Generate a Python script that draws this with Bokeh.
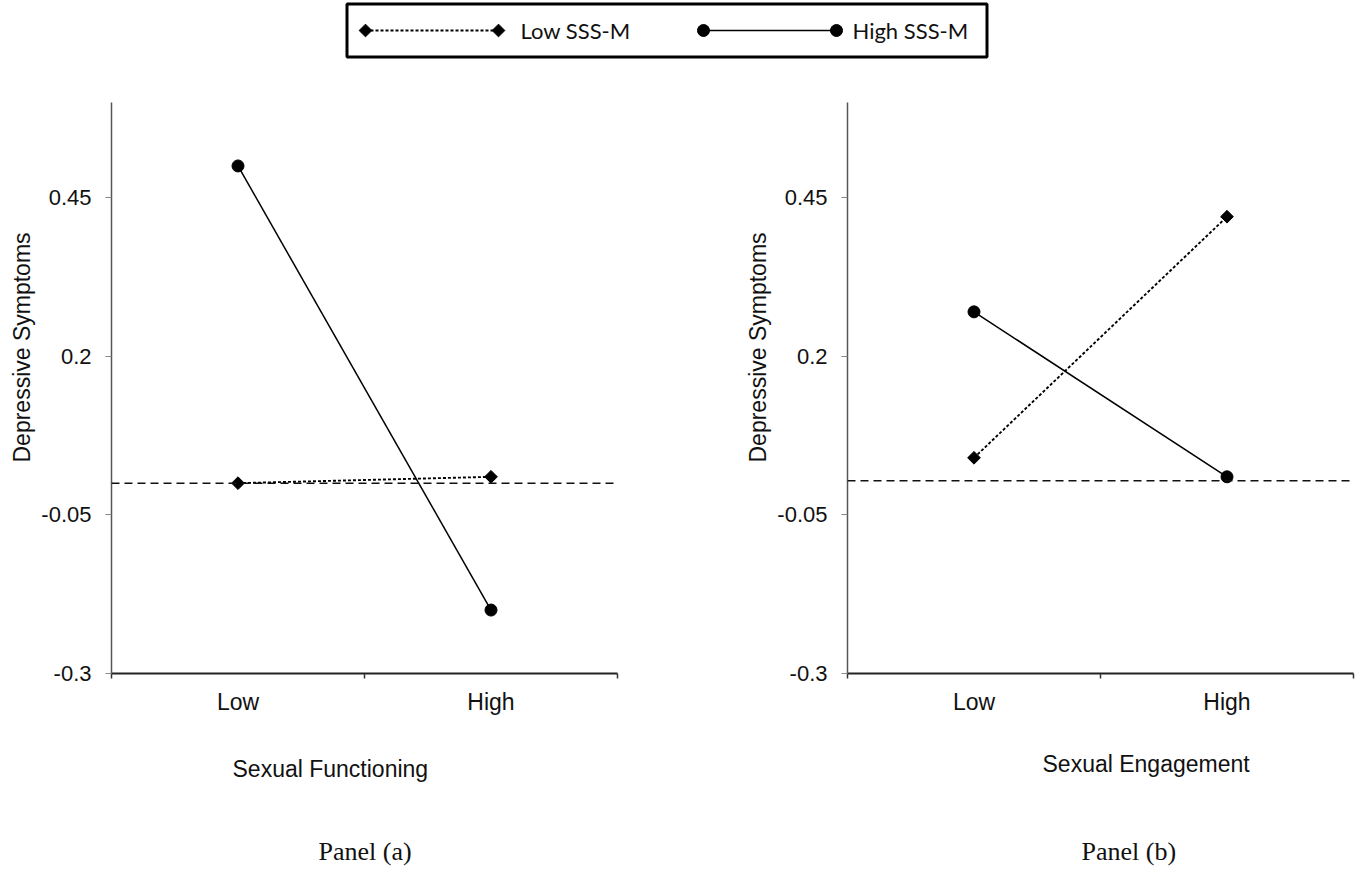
import math
from bokeh.plotting import figure
from bokeh.models import Range1d, FixedTicker, Span, Title
from bokeh.layouts import column, row
from bokeh.embed import file_html
from bokeh.resources import INLINE
from bokeh.core.properties import value

# ---------------- data ----------------
levels = ["Low", "High"]
series_names = ["Low SSS-M", "High SSS-M"]
panel_a_low_sssm = [0.0, 0.01]
panel_a_high_sssm = [0.50, -0.20]
panel_b_low_sssm = [0.04, 0.42]
panel_b_high_sssm = [0.27, 0.01]
reference_levels = [0.0, 0.004]
y_ticks = [-0.3, -0.05, 0.2, 0.45]
y_tick_labels = ["-0.3", "-0.05", "0.2", "0.45"]
y_min, y_max = -0.3, 0.6
x_titles = ["Sexual Functioning", "Sexual Engagement"]
panel_titles = ["Panel (a)", "Panel (b)"]
y_title = "Depressive Symptoms"

SANS = "Liberation Sans"
SERIF = "Liberation Serif"
PAGE_W = 1360
LEG_H = 60
TOP_BORDER = 42
FRAME_H = 571
BOTTOM_BORDER = 50
ROW_H = TOP_BORDER + FRAME_H + BOTTOM_BORDER
CAP_H = 145
LOW_DASH = "3 2"
LOW_WIDTH = 1.9


def make_panel(low_vals, high_vals, ref, width, border_left, border_right):
    p = figure(width=width, height=ROW_H,
               x_range=Range1d(0, len(levels)), y_range=Range1d(y_min, y_max),
               output_backend="svg", toolbar_location=None,
               min_border_left=border_left, min_border_right=border_right,
               min_border_top=TOP_BORDER, min_border_bottom=BOTTOM_BORDER)
    p.grid.visible = False
    p.outline_line_color = None
    p.background_fill_color = "white"
    p.border_fill_color = "white"

    xs = [i + 0.5 for i in range(len(levels))]

    xa = p.xaxis[0]
    xa.ticker = FixedTicker(ticks=xs, minor_ticks=list(range(len(levels) + 1)))
    xa.major_label_overrides = {x: lab for x, lab in zip(xs, levels)}
    xa.major_tick_line_color = None
    xa.major_tick_out = 5
    xa.major_tick_in = 0
    xa.minor_tick_out = 5
    xa.minor_tick_in = 0
    xa.minor_tick_line_color = "#333333"
    xa.minor_tick_line_width = 1.5
    xa.axis_line_color = "#222222"
    xa.axis_line_width = 2
    xa.major_label_standoff = 10
    xa.major_label_text_font = SANS
    xa.major_label_text_font_size = "23px"
    xa.major_label_text_color = "#111111"

    ya = p.yaxis[0]
    ya.ticker = FixedTicker(ticks=y_ticks)
    ya.major_label_overrides = {t: lab for t, lab in zip(y_ticks, y_tick_labels)}
    ya.major_tick_out = 6
    ya.major_tick_in = 0
    ya.major_tick_line_color = "#888888"
    ya.major_tick_line_width = 1
    ya.minor_tick_line_color = None
    ya.axis_line_color = "#555555"
    ya.axis_line_width = 1.5
    ya.major_label_standoff = 14
    ya.major_label_text_font = SANS
    ya.major_label_text_font_size = "22px"
    ya.major_label_text_color = "#111111"

    p.add_layout(Span(location=ref, dimension="width", line_color="#111111",
                      line_width=1.5, line_dash="8 5"))

    p.line(xs, low_vals, line_color="black", line_width=LOW_WIDTH, line_dash=LOW_DASH)
    p.scatter(xs, low_vals, marker="square", angle=math.pi / 4, size=9,
              fill_color="black", line_color="black")
    p.line(xs, high_vals, line_color="black", line_width=1.5)
    p.scatter(xs, high_vals, marker="circle", size=12,
              fill_color="black", line_color="black")

    p.add_layout(Title(text=y_title, align="left", offset=211,
                       text_font=SANS, text_font_size="23px",
                       text_font_style="normal", text_color="#111111",
                       standoff=8), "left")
    return p


def plain_fig(w, h):
    f = figure(width=w, height=h, x_range=Range1d(0, w), y_range=Range1d(0, h),
               output_backend="svg", toolbar_location=None,
               x_axis_location=None, y_axis_location=None,
               min_border_left=0, min_border_right=0, min_border_top=0,
               min_border_bottom=0)
    f.grid.visible = False
    f.outline_line_color = None
    return f


pa = make_panel(panel_a_low_sssm, panel_a_high_sssm, reference_levels[0], 682, 111, 65)
pb = make_panel(panel_b_low_sssm, panel_b_high_sssm, reference_levels[1], 678, 165, 7)

# ---------------- legend ----------------
leg = plain_fig(PAGE_W, LEG_H)
leg.quad(left=346.5, right=986.5, bottom=3.5, top=56.5,
         fill_color=None, line_color="black", line_width=3)
cy = 30
sample_low = [365, 498]
sample_high = [703, 836]
leg.line(sample_low, [cy, cy], line_color="black", line_width=LOW_WIDTH, line_dash=LOW_DASH)
leg.scatter(sample_low, [cy, cy], marker="square", angle=math.pi / 4, size=9,
            fill_color="black", line_color="black")
leg.line(sample_high, [cy, cy], line_color="black", line_width=1.5)
leg.scatter(sample_high, [cy, cy], marker="circle", size=12,
            fill_color="black", line_color="black")
leg.text(x=[520, 852], y=[cy, cy], text=series_names,
         text_font=value("Lato"), text_font_size="22px",
         text_baseline="middle", text_align="left", text_color="#111111")

# ---------------- captions under the panels ----------------
cap = plain_fig(PAGE_W, CAP_H)
cap_top = LEG_H + ROW_H          # page y of the caption strip's top edge
x_title_x = [232, 1042]
x_title_page_y = [768, 763]
panel_title_x = [318, 1081]
panel_title_page_y = [851, 851]
cap.text(x=x_title_x, y=[CAP_H - (v - cap_top) for v in x_title_page_y],
         text=x_titles, text_font=value(SANS), text_font_size="23px",
         text_baseline="middle", text_align="left", text_color="#111111")
cap.text(x=panel_title_x, y=[CAP_H - (v - cap_top) for v in panel_title_page_y],
         text=panel_titles, text_font=value(SERIF), text_font_size="26px",
         text_baseline="middle", text_align="left", text_color="#111111")

layout = column(leg, row(pa, pb, spacing=0), cap, spacing=0)

open("out.html", "w").write(file_html(layout, INLINE))
